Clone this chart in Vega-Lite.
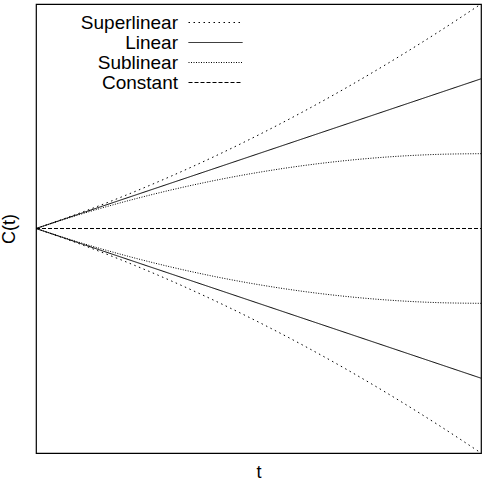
{
  "$schema": "https://vega.github.io/schema/vega-lite/v6.json",
  "width": 445,
  "height": 449,
  "autosize": "none",
  "padding": {"left": 36, "top": 4, "right": 1, "bottom": 34},
  "config": {
    "view": {"stroke": "#000", "strokeWidth": 1.2},
    "font": "Liberation Sans",
    "axis": {"domain": false, "ticks": false, "labels": false, "grid": false, "titleFont": "Liberation Sans", "titleFontSize": 18, "titleFontWeight": "normal", "titleColor": "#000"}
  },
  "data": {
    "values": [
      {"series": "Superlinear", "side": "up", "t": 0, "c": 0},
      {"series": "Superlinear", "side": "up", "t": 0.1, "c": 0.07},
      {"series": "Superlinear", "side": "up", "t": 0.2, "c": 0.1467},
      {"series": "Superlinear", "side": "up", "t": 0.3, "c": 0.23},
      {"series": "Superlinear", "side": "up", "t": 0.4, "c": 0.32},
      {"series": "Superlinear", "side": "up", "t": 0.5, "c": 0.4167},
      {"series": "Superlinear", "side": "up", "t": 0.6, "c": 0.52},
      {"series": "Superlinear", "side": "up", "t": 0.7, "c": 0.63},
      {"series": "Superlinear", "side": "up", "t": 0.8, "c": 0.7467},
      {"series": "Superlinear", "side": "up", "t": 0.9, "c": 0.87},
      {"series": "Superlinear", "side": "up", "t": 1, "c": 1},
      {"series": "Superlinear", "side": "down", "t": 0, "c": 0},
      {"series": "Superlinear", "side": "down", "t": 0.1, "c": -0.07},
      {"series": "Superlinear", "side": "down", "t": 0.2, "c": -0.1467},
      {"series": "Superlinear", "side": "down", "t": 0.3, "c": -0.23},
      {"series": "Superlinear", "side": "down", "t": 0.4, "c": -0.32},
      {"series": "Superlinear", "side": "down", "t": 0.5, "c": -0.4167},
      {"series": "Superlinear", "side": "down", "t": 0.6, "c": -0.52},
      {"series": "Superlinear", "side": "down", "t": 0.7, "c": -0.63},
      {"series": "Superlinear", "side": "down", "t": 0.8, "c": -0.7467},
      {"series": "Superlinear", "side": "down", "t": 0.9, "c": -0.87},
      {"series": "Superlinear", "side": "down", "t": 1, "c": -1},
      {"series": "Linear", "side": "up", "t": 0, "c": 0},
      {"series": "Linear", "side": "up", "t": 1, "c": 0.6667},
      {"series": "Linear", "side": "down", "t": 0, "c": 0},
      {"series": "Linear", "side": "down", "t": 1, "c": -0.6667},
      {"series": "Sublinear", "side": "up", "t": 0, "c": 0},
      {"series": "Sublinear", "side": "up", "t": 0.1, "c": 0.0633},
      {"series": "Sublinear", "side": "up", "t": 0.2, "c": 0.12},
      {"series": "Sublinear", "side": "up", "t": 0.3, "c": 0.17},
      {"series": "Sublinear", "side": "up", "t": 0.4, "c": 0.2133},
      {"series": "Sublinear", "side": "up", "t": 0.5, "c": 0.25},
      {"series": "Sublinear", "side": "up", "t": 0.6, "c": 0.28},
      {"series": "Sublinear", "side": "up", "t": 0.7, "c": 0.3033},
      {"series": "Sublinear", "side": "up", "t": 0.8, "c": 0.32},
      {"series": "Sublinear", "side": "up", "t": 0.9, "c": 0.33},
      {"series": "Sublinear", "side": "up", "t": 1, "c": 0.3333},
      {"series": "Sublinear", "side": "down", "t": 0, "c": 0},
      {"series": "Sublinear", "side": "down", "t": 0.1, "c": -0.0633},
      {"series": "Sublinear", "side": "down", "t": 0.2, "c": -0.12},
      {"series": "Sublinear", "side": "down", "t": 0.3, "c": -0.17},
      {"series": "Sublinear", "side": "down", "t": 0.4, "c": -0.2133},
      {"series": "Sublinear", "side": "down", "t": 0.5, "c": -0.25},
      {"series": "Sublinear", "side": "down", "t": 0.6, "c": -0.28},
      {"series": "Sublinear", "side": "down", "t": 0.7, "c": -0.3033},
      {"series": "Sublinear", "side": "down", "t": 0.8, "c": -0.32},
      {"series": "Sublinear", "side": "down", "t": 0.9, "c": -0.33},
      {"series": "Sublinear", "side": "down", "t": 1, "c": -0.3333},
      {"series": "Constant", "side": "up", "t": 0, "c": 0},
      {"series": "Constant", "side": "up", "t": 1, "c": 0}
    ]
  },
  "mark": {"type": "line", "interpolate": "monotone", "stroke": "#000", "strokeWidth": 1, "clip": true},
  "encoding": {
    "x": {"field": "t", "type": "quantitative", "scale": {"domain": [0, 1], "nice": false, "zero": false}, "title": "t", "axis": {"titlePadding": 10}},
    "y": {"field": "c", "type": "quantitative", "scale": {"domain": [-1, 1], "nice": false}, "title": "C(t)", "axis": {"titlePadding": 18}},
    "detail": {"field": "side", "type": "nominal"},
    "strokeDash": {
      "field": "series", "type": "nominal",
      "scale": {"domain": ["Superlinear", "Linear", "Sublinear", "Constant"], "range": [[1.5, 3.5], [1, 0], [1, 1.5], [4, 2]]},
      "legend": {
        "title": null, "orient": "none", "legendX": 170, "legendY": 9,
        "symbolType": "M-3,0H3", "symbolSize": 324, "symbolStrokeWidth": 1, "symbolStrokeColor": "#000",
        "labelAlign": "right", "labelOffset": -47, "labelFontSize": 19, "labelFont": "Liberation Sans", "labelColor": "#000",
        "labelLimit": 300, "rowPadding": 0, "padding": 0
      }
    }
  }
}
